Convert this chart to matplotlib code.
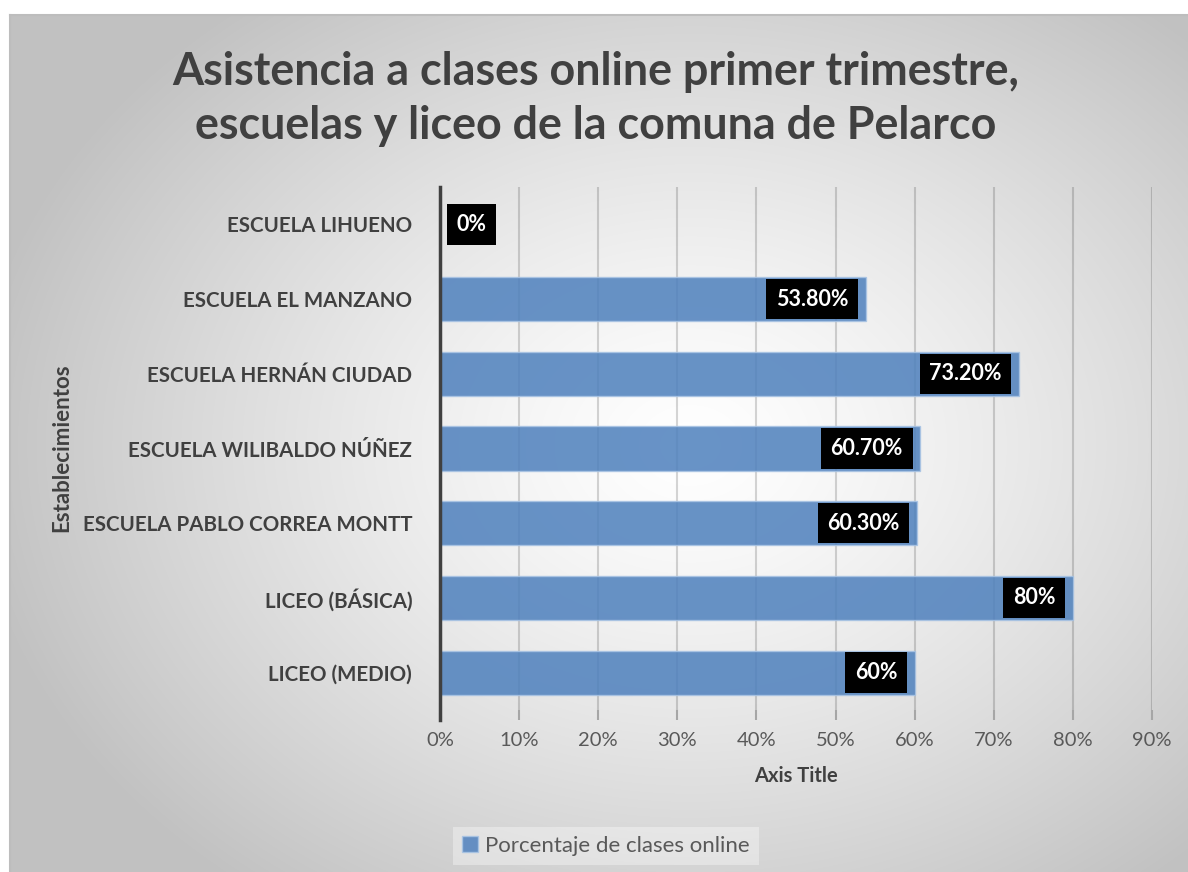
import numpy as np
import matplotlib
matplotlib.use("Agg")
import matplotlib.pyplot as plt
from matplotlib.ticker import FuncFormatter, MultipleLocator

categories = ["ESCUELA LIHUENO", "ESCUELA EL MANZANO", "ESCUELA HERNÁN CIUDAD",
              "ESCUELA WILIBALDO NÚÑEZ", "ESCUELA PABLO CORREA MONTT",
              "LICEO (BÁSICA)", "LICEO (MEDIO)"]
values = [0.0, 53.8, 73.2, 60.7, 60.3, 80.0, 60.0]
value_labels = ["0%", "53.80%", "73.20%", "60.70%", "60.30%", "80%", "60%"]
series_name = "Porcentaje de clases online"
title = "Asistencia a clases online primer trimestre,\nescuelas y liceo de la comuna de Pelarco"

plt.rcParams['font.family'] = ['Lato', 'DejaVu Sans']

W, H = 1188, 872
fig = plt.figure(figsize=(W / 100, H / 100), dpi=100)
fig.patch.set_facecolor("white")

# background panel with radial gradient
px0, py0 = 10, 15
bg = fig.add_axes([px0 / W, 0, 1 - px0 / W, 1 - py0 / H], zorder=-10)
gw, gh = W - px0, H - py0
yy, xx = np.mgrid[0:gh, 0:gw]
cx, cy = 680, 430
r = np.sqrt(((xx - cx) / 720.0) ** 2 + ((yy - cy) / 560.0) ** 2)
r = np.clip(r, 0, 1)
val = 1.0 - (1.0 - 0.76) * r ** 1.3
img = np.dstack([val, val, val])
bg.imshow(img, aspect="auto", extent=[0, gw, gh, 0], interpolation="bilinear")
bg.set_xlim(0, gw)
bg.set_ylim(gh, 0)
bg.set_xticks([]); bg.set_yticks([])
for s in ["right", "bottom"]:
    bg.spines[s].set_visible(False)
for s in ["left", "top"]:
    bg.spines[s].set_color("#bdbdbd")
    bg.spines[s].set_linewidth(1.5)

ax = fig.add_axes([440 / W, 1 - 710 / H, (1152 - 440) / W, (710 - 187) / H])
ax.set_facecolor("none")

y = np.arange(len(categories))
bars = ax.barh(y, values, height=0.59, color="#4F81BD", alpha=0.86,
               edgecolor="#A9C4E4", linewidth=1.0, label=series_name, zorder=2)
ax.set_yticks(y)
ax.set_yticklabels(categories, fontsize=14.8, fontweight="bold", color="#404040")
ax.invert_yaxis()
ax.set_ylim(len(categories) - 0.5, -0.5)
ax.set_xlim(0, 90)
ax.xaxis.set_major_locator(MultipleLocator(10))
ax.xaxis.set_major_formatter(FuncFormatter(lambda v, p: f"{v:.0f}%"))
ax.tick_params(axis="x", labelsize=14.5, labelcolor="#595959", length=7,
               width=1.5, color="#a6a6a6", pad=9)
ax.tick_params(axis="y", length=0, pad=20)
ax.grid(axis="x", color="black", alpha=0.16, linewidth=1.5, zorder=0)
ax.set_axisbelow(True)
for s in ["top", "right", "bottom"]:
    ax.spines[s].set_visible(False)
ax.spines["left"].set_color("#404040")
ax.spines["left"].set_linewidth(2.5)
ax.spines["left"].set_bounds(len(categories) - 0.5 + 0.13, -0.5)

for yi, v, lab in zip(y, values, value_labels):
    off, ha = ((12, "left") if v <= 0 else (-12.5, "right"))
    ax.annotate(lab, xy=(v, yi), xytext=(off, 0), textcoords="offset points",
                ha=ha, va="center", color="white", fontsize=15.5,
                fontweight="bold", zorder=5,
                bbox=dict(boxstyle="square,pad=0.45", fc="black", ec="none"))

ax.set_xlabel("Axis Title", fontsize=14.5, fontweight="bold", color="#404040", labelpad=12)
fig.text(62 / W, 1 - 448 / H, "Establecimientos", rotation=90, ha="center", va="center",
         fontsize=16, fontweight="bold", color="#404040")

fig.text(596 / W, 1 - 99 / H, title, ha="center", va="center", fontsize=32.3,
         fontweight="bold", color="#404040", linespacing=1.36)

leg = fig.legend(handles=[bars], labels=[series_name], loc="center",
                 bbox_to_anchor=(606 / W, 1 - 846 / H), frameon=True, fontsize=16,
                 handlelength=0.7, handleheight=0.7, handletextpad=0.35,
                 facecolor="white", edgecolor="none", framealpha=0.35, fancybox=False)
for t in leg.get_texts():
    t.set_color("#595959")

fig.savefig("out.png", dpi=100)
